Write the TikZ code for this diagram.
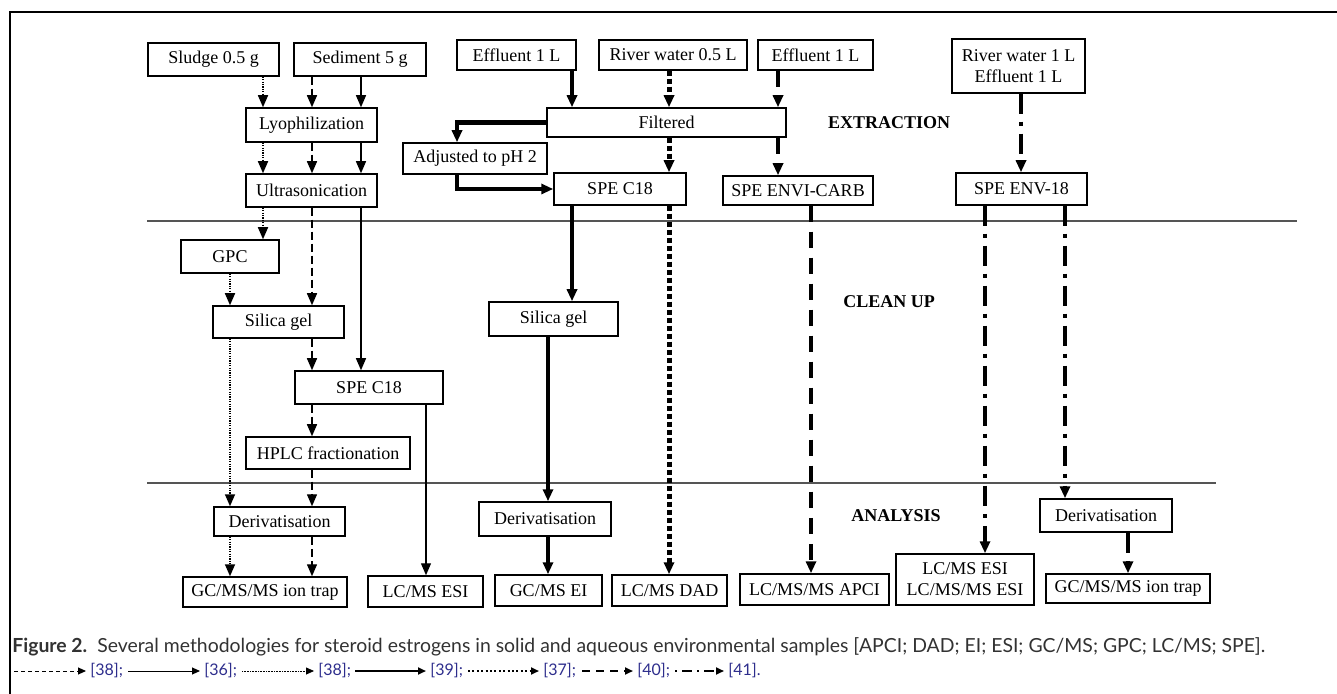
\documentclass[tikz,border=0pt]{standalone}
\usepackage{fontspec}
\setmainfont{Liberation Serif}
\newfontfamily\capfont{Lato}
\usetikzlibrary{arrows.meta}

\definecolor{refblue}{RGB}{45,45,140}
\definecolor{rulegray}{RGB}{85,85,85}
\definecolor{captext}{RGB}{50,50,50}

\tikzset{
  box/.style={draw, line width=0.75pt, inner sep=1pt, align=center,
    font=\fontsize{9}{10.5}\selectfont},
  stage/.style={font=\fontsize{9}{10.5}\selectfont\bfseries},
  flowtip/.style={-{Triangle[length=6pt,width=5pt]}},
  thinsolid/.style={flowtip, line width=0.6pt},
  thindashed/.style={flowtip, line width=0.7pt, dash pattern=on 4pt off 2pt},
  thindotted/.style={flowtip, line width=0.8pt, dash pattern=on 0.6pt off 0.6pt},
  boldsolid/.style={flowtip, line width=2.3pt},
  bolddotted/.style={flowtip, line width=2.5pt, dash pattern=on 2.4pt off 1.6pt},
  bolddashed/.style={flowtip, line width=2.3pt, dash pattern=on 8pt off 5pt},
  bolddashdot/.style={flowtip, line width=2.3pt, dash pattern=on 10pt off 4pt on 2pt off 4pt},
  keytip/.style={-{Triangle[length=4pt,width=3.5pt]}},
  reflabel/.style={anchor=west, inner sep=0pt, text=refblue,
    font=\capfont\fontsize{8}{10}\selectfont},
}

\begin{document}
\begin{tikzpicture}[x=0.5pt,y=-0.5pt]
\useasboundingbox (0,0) rectangle (1337,694);

% frame
\draw[line width=1pt] (10,694) -- (10,12) -- (1337,12);

% stage rules and titles
\draw[rulegray, line width=0.8pt] (147,221) -- (1297,221);
\draw[rulegray, line width=0.8pt] (147,483) -- (1216,483);
\node[stage] (extr) at (889,123) {EXTRACTION};
\node[stage] (clean) at (889,302) {CLEAN UP};
\node[stage] (anal) at (896,516) {ANALYSIS};

% columns used by the connectors
\coordinate (colA) at (263,0);
\coordinate (colB) at (312,0);
\coordinate (colC) at (361,0);
\coordinate (colD) at (230,0);
\coordinate (colE) at (426,0);
\coordinate (colF) at (572,0);
\coordinate (colG) at (669,0);
\coordinate (colH) at (778,0);
\coordinate (colI) at (457,0);
\coordinate (colJ) at (548,0);
\coordinate (colK) at (811,0);
\coordinate (colL) at (1021,0);
\coordinate (colM) at (985,0);
\coordinate (colN) at (1065,0);
\coordinate (colO) at (1128,0);

% solid samples
\node[box,minimum width=65.5pt,minimum height=16.5pt] (sludge) at (213.5,59.5) {Sludge 0.5 g};
\node[box,minimum width=66pt,minimum height=16.5pt] (sed) at (360,59.5) {Sediment 5 g};
\node[box,minimum width=65.5pt,minimum height=17pt] (lyo) at (311.5,125) {Lyophilization};
\node[box,minimum width=65.5pt,minimum height=16.5pt] (ultra) at (311.5,190.5) {Ultrasonication};
\node[box,minimum width=49pt,minimum height=16.5pt] (gpc) at (230,256.5) {GPC};
\node[box,minimum width=65.5pt,minimum height=16pt] (silL) at (278.5,322) {Silica gel};
\node[box,minimum width=74pt,minimum height=16.5pt] (speL) at (369,387.5) {SPE C18};
\node[box,minimum width=82pt,minimum height=16pt] (hplc) at (328,453) {HPLC fractionation};
\node[box,minimum width=65.5pt,minimum height=14.5pt] (derL) at (279.5,521.5) {Derivatisation};
\node[box,minimum width=82pt,minimum height=15pt] (gcL) at (265,592) {GC/MS/MS ion trap};
\node[box,minimum width=57.5pt,minimum height=15.5pt] (lcesi) at (425.5,591.5) {LC/MS ESI};

% aqueous samples
\node[box,minimum width=59.5pt,minimum height=15pt] (eff1) at (516.5,55) {Effluent 1 L};
\node[box,minimum width=74pt,minimum height=15pt] (river) at (673,55) {River water 0.5 L};
\node[box,minimum width=57.5pt,minimum height=15pt] (eff2) at (815.5,55) {Effluent 1 L};
\node[box,minimum width=119.5pt,minimum height=14.5pt] (filt) at (666.5,122.5) {Filtered};
\node[box,minimum width=72pt,minimum height=15.5pt] (adj) at (475,158.5) {Adjusted to pH 2};
\node[box,minimum width=66pt,minimum height=16pt] (speM) at (620,189) {SPE C18};
\node[box,minimum width=75pt,minimum height=14.5pt] (envi) at (798,190.5) {SPE ENVI-CARB};
\node[box,minimum width=64.5pt,minimum height=17pt] (silM) at (553.5,319) {Silica gel};
\node[box,minimum width=66pt,minimum height=17pt] (derM) at (545,519) {Derivatisation};
\node[box,minimum width=53.5pt,minimum height=15.5pt] (gcei) at (548.5,590.5) {GC/MS EI};
\node[box,minimum width=57.5pt,minimum height=15.5pt] (dad) at (669.5,590.5) {LC/MS DAD};
\node[box,minimum width=74.5pt,minimum height=15.5pt] (apci) at (814.5,589.5) {LC/MS/MS APCI};
\node[box,minimum width=66.5pt,minimum height=27pt] (rw) at (1018.5,66) {River water 1 L\\Effluent 1 L};
\node[box,minimum width=65.5pt,minimum height=16pt] (env) at (1021.5,189) {SPE ENV-18};
\node[box,minimum width=69pt,minimum height=25.5pt] (esi2) at (965,579.5) {LC/MS ESI\\LC/MS/MS ESI};
\node[box,minimum width=66pt,minimum height=16.5pt] (derR) at (1106,515.5) {Derivatisation};
\node[box,minimum width=82pt,minimum height=14.5pt] (gcR) at (1128,588.5) {GC/MS/MS ion trap};

% sludge and sediment routes
\draw[thindotted] (sludge.south -| colA) -- (lyo.north -| colA);
\draw[thindashed] (sed.south -| colB) -- (lyo.north -| colB);
\draw[thinsolid] (sed.south -| colC) -- (lyo.north -| colC);
\draw[thindotted] (lyo.south -| colA) -- (ultra.north -| colA);
\draw[thindashed] (lyo.south -| colB) -- (ultra.north -| colB);
\draw[thinsolid] (lyo.south -| colC) -- (ultra.north -| colC);
\draw[thindotted] (ultra.south -| colA) -- (gpc.north -| colA);
\draw[thindashed] (ultra.south -| colB) -- (silL.north -| colB);
\draw[thinsolid] (ultra.south -| colC) -- (speL.north -| colC);
\draw[thindotted] (gpc.south -| colD) -- (silL.north -| colD);
\draw[thindotted] (silL.south -| colD) -- (derL.north -| colD);
\draw[thindashed] (silL.south -| colB) -- (speL.north -| colB);
\draw[thindashed] (speL.south -| colB) -- (hplc.north -| colB);
\draw[thinsolid] (speL.south -| colE) -- (lcesi.north -| colE);
\draw[thindashed] (hplc.south -| colB) -- (derL.north -| colB);
\draw[thindotted] (derL.south -| colD) -- (gcL.north -| colD);
\draw[thindashed] (derL.south -| colB) -- (gcL.north -| colB);

% water routes
\draw[boldsolid] (eff1.south -| colF) -- (filt.north -| colF);
\draw[bolddotted] (river.south -| colG) -- (filt.north -| colG);
\draw[bolddashed] (eff2.south -| colH) -- (filt.north -| colH);
\draw[boldsolid] (filt.west) -| (adj.north -| colI);
\draw[boldsolid] (adj.south -| colI) |- (speM.west);
\draw[bolddotted] (filt.south -| colG) -- (speM.north -| colG);
\draw[bolddashed] (filt.south -| colH) -- (envi.north -| colH);
\draw[boldsolid] (speM.south -| colF) -- (silM.north -| colF);
\draw[boldsolid] (silM.south -| colJ) -- (derM.north -| colJ);
\draw[boldsolid] (derM.south -| colJ) -- (gcei.north -| colJ);
\draw[bolddotted] (speM.south -| colG) -- (dad.north -| colG);
\draw[bolddashed] (envi.south -| colK) -- (apci.north -| colK);
\draw[bolddashdot] (rw.south -| colL) -- (env.north -| colL);
\draw[bolddashdot] (env.south -| colM) -- (esi2.north -| colM);
\draw[bolddashdot] (env.south -| colN) -- (derR.north -| colN);
\draw[bolddashdot] (derR.south -| colO) -- (gcR.north -| colO);

% caption
\node[anchor=west, inner sep=0pt, text=captext, font=\capfont\fontsize{9.7}{11}\selectfont] (cap) at (12,647)
  {\textbf{Figure 2.}\ \ Several methodologies for steroid estrogens in solid and aqueous environmental samples [APCI; DAD; EI; ESI; GC/MS; GPC; LC/MS; SPE].};

% legend
\node[reflabel] (r1) at (90,671) {[38];};
\node[reflabel] (r2) at (204,671) {[36];};
\node[reflabel] (r3) at (318,671) {[38];};
\node[reflabel] (r4) at (430,671) {[39];};
\node[reflabel] (r5) at (543,671) {[37];};
\node[reflabel] (r6) at (637,671) {[40];};
\node[reflabel] (r7) at (728,671) {[41].};
\coordinate (k1) at (14,671);
\coordinate (k2) at (128,671);
\coordinate (k3) at (242,671);
\coordinate (k4) at (355,671);
\coordinate (k5) at (468,671);
\coordinate (k6) at (582,671);
\coordinate (k7) at (675,671);
\draw[keytip, line width=0.5pt, dash pattern=on 2pt off 1.5pt] (k1) -- ([xshift=-2pt]r1.west);
\draw[keytip, line width=0.5pt] (k2) -- ([xshift=-2pt]r2.west);
\draw[keytip, line width=0.4pt, dash pattern=on 0.4pt off 0.4pt] (k3) -- ([xshift=-2pt]r3.west);
\draw[keytip, line width=1.4pt] (k4) -- ([xshift=-2pt]r4.west);
\draw[keytip, line width=1pt, dash pattern=on 1pt off 1.2pt] (k5) -- ([xshift=-2pt]r5.west);
\draw[keytip, line width=1.4pt, dash pattern=on 4pt off 3pt] (k6) -- ([xshift=-2pt]r6.west);
\draw[keytip, line width=1.2pt, dash pattern=on 1pt off 2.5pt on 5pt off 2.5pt] (k7) -- ([xshift=-2pt]r7.west);
\end{tikzpicture}
\end{document}
